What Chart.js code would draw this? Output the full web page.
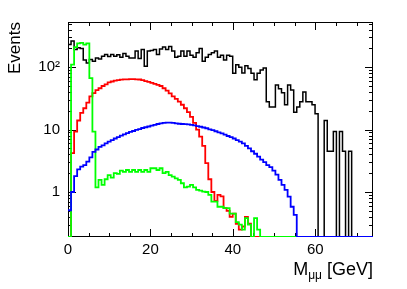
<!DOCTYPE html>
<html>
<head>
<meta charset="utf-8">
<script src="https://cdn.jsdelivr.net/npm/chart.js@4.4.1/dist/chart.umd.min.js"></script>
<style>
  html, body { margin: 0; padding: 0; background: #fff; }
  #chart { display: block; }
</style>
</head>
<body>
<canvas id="chart" width="407" height="289"></canvas>
<script>
// binning of the histograms (GeV)
const binWidth = 0.74;
const xMax = 74;
const xTickValues = [0, 20, 40, 60];
const xTickLabels = ['0', '20', '40', '60'];
const yTickValues = [1, 10, 100];
const yTickLabels = ['1', '10', '10²'];
const yMin = 0.19;
const yMax = 530;

// events per bin
const blackCounts = [
  230, 262, 192, 205, 200, 130, 117, 133, 125, 141,
  135, 150, 160, 148, 160, 150, 158, 145, 165, 150,
  141, 140, 181, 138, 192, 104, 181, 185, 192, 160,
  195, 210, 192, 215, 181, 145, 150, 181, 150, 181,
  155, 145, 170, 200, 125, 145, 160, 170, 181, 145,
  155, 131, 155, 150, 80, 109, 100, 81, 105, 95,
  80, 63, 80, 90, 97, 28, 23, 23, 52, 45,
  39, 25, 52, 43, 19, 23, 28, 40, 28, 28,
  25, 18, 0, 0, 14, 4.5, 4.5, 9.3, 0, 9.3,
  4.5, 0, 4.5, 0, 0, 0, 0, 0, 0, 0
];
const redCounts = [
  0, 4.2, 9.3, 14, 18.5, 22, 27, 34, 38.5, 43,
  46, 50, 53, 57, 59, 61, 62, 63, 64, 64,
  64.5, 64.5, 64, 63.5, 62, 60, 58, 56, 54, 52,
  50, 46, 42, 38, 34, 31, 28, 25, 22, 19,
  16, 12.8, 10, 7.7, 5.5, 2.9, 1.6, 1.0, 0.72, 0.9,
  0.85, 0.55, 0.5, 0.4, 0.45, 0.31, 0.25, 0.28, 0.4, 0.31,
  0, 0, 0, 0, 0, 0, 0, 0, 0, 0,
  0, 0, 0, 0, 0, 0, 0, 0, 0, 0,
  0, 0, 0, 0, 0, 0, 0, 0, 0, 0,
  0, 0, 0, 0, 0, 0, 0, 0, 0, 0
];
const blueCounts = [
  0.51, 1.0, 1.8, 2.3, 2.55, 2.7, 3.06, 3.6, 4.4, 4.8,
  5.3, 5.6, 6.0, 6.4, 6.8, 7.2, 7.6, 8.0, 8.4, 8.8,
  9.2, 9.5, 9.9, 10.2, 10.6, 10.9, 11.2, 11.6, 11.9, 12.3,
  12.6, 12.8, 12.9, 12.9, 12.8, 12.6, 12.4, 12.3, 12.2, 12.1,
  11.9, 11.7, 11.4, 11.1, 10.8, 10.5, 10.1, 9.8, 9.4, 9.0,
  8.7, 8.3, 7.9, 7.6, 7.2, 6.8, 6.4, 6.0, 5.5, 5.0,
  4.5, 4.1, 3.7, 3.3, 3.0, 2.7, 2.5, 2.2, 1.9, 1.56,
  1.3, 1.08, 0.84, 0.58, 0.43, 0, 0, 0, 0, 0,
  0, 0, 0, 0, 0, 0, 0, 0, 0, 0,
  0, 0, 0, 0, 0, 0, 0, 0, 0, 0
];
const greenCounts = [
  0, 110, 210, 240, 245, 230, 240, 67, 9.3, 1.19,
  1.56, 1.3, 1.6, 1.87, 1.7, 2.0, 1.95, 2.2, 2.1, 2.25,
  2.1, 2.25, 2.1, 2.25, 2.1, 2.25, 2.1, 2.4, 2.4, 2.25,
  2.4, 2.0, 2.1, 1.87, 1.76, 1.65, 1.56, 1.38, 1.19, 1.22,
  1.3, 1.19, 1.08, 1.05, 1.01, 1.0, 0.9, 0.7, 0.7, 0.58,
  0.58, 0.55, 0.55, 0.45, 0.45, 0.33, 0.3, 0.25, 0.38, 0.3,
  0, 0.38, 0.25, 0, 0, 0, 0, 0, 0, 0,
  0, 0, 0, 0, 0, 0, 0, 0, 0, 0,
  0, 0, 0, 0, 0, 0, 0, 0, 0, 0,
  0, 0, 0, 0, 0, 0, 0, 0, 0, 0
];

const font = '"Liberation Sans", Arial, Helvetica, sans-serif';

// turn bin contents into step points (empty bins sit on the bottom of the frame)
function histPoints(counts) {
  const pts = counts.map((v, i) => ({ x: i * binWidth, y: v > 0 ? v : yMin }));
  pts.push({ x: counts.length * binWidth, y: pts[pts.length - 1].y });
  return pts;
}

function histDataset(counts, color, width) {
  return {
    data: histPoints(counts),
    borderColor: color,
    borderWidth: width,
    stepped: 'before',
    pointRadius: 0,
    fill: false
  };
}

// ROOT-like frame with ticks on all four sides, plus the x title with subscript
const rootFrame = {
  id: 'rootFrame',
  beforeDatasetsDraw(chart) {
    const { ctx, chartArea: a, scales: { x, y } } = chart;
    ctx.save();
    ctx.strokeStyle = '#000';
    ctx.lineWidth = 1;
    ctx.strokeRect(a.left + 0.5, a.top + 0.5, a.right - a.left - 1, a.bottom - a.top - 1);
    ctx.beginPath();
    for (let v = 0; v <= xMax; v += 5) {
      const px = Math.round(x.getPixelForValue(v)) + 0.5;
      const len = v % 20 === 0 ? 8 : 4;
      ctx.moveTo(px, a.bottom); ctx.lineTo(px, a.bottom - len);
      ctx.moveTo(px, a.top); ctx.lineTo(px, a.top + len);
    }
    for (let d = -1; d <= 2; d++) {
      for (let k = 1; k <= 9; k++) {
        const v = k * Math.pow(10, d);
        if (v < yMin || v > yMax) continue;
        const py = Math.round(y.getPixelForValue(v)) + 0.5;
        const len = k === 1 ? 8 : 4;
        ctx.moveTo(a.left, py); ctx.lineTo(a.left + len, py);
        ctx.moveTo(a.right, py); ctx.lineTo(a.right - len, py);
      }
    }
    ctx.stroke();
    ctx.restore();
  },
  afterDraw(chart) {
    const { ctx, chartArea: a } = chart;
    const big = '18px ' + font;
    const small = '12px ' + font;
    ctx.save();
    ctx.fillStyle = '#000';
    ctx.textBaseline = 'alphabetic';
    ctx.font = big;
    const wM = ctx.measureText('M').width;
    const wRest = ctx.measureText(' [GeV]').width;
    ctx.font = small;
    const wSub = ctx.measureText('μμ').width;
    const base = a.bottom + 38;
    let xPos = a.right - (wM + wSub + wRest);
    ctx.font = big;
    ctx.fillText('M', xPos, base);
    xPos += wM;
    ctx.font = small;
    ctx.fillText('μμ', xPos, base + 4);
    xPos += wSub;
    ctx.font = big;
    ctx.fillText(' [GeV]', xPos, base);
    ctx.restore();
  }
};

const ctx = document.getElementById('chart').getContext('2d');
new Chart(ctx, {
  type: 'line',
  data: {
    datasets: [
      histDataset(blueCounts, '#0000ff', 1.8),
      histDataset(greenCounts, '#00ff00', 1.8),
      histDataset(redCounts, '#ff0000', 1.8),
      histDataset(blackCounts, '#000000', 1.5)
    ]
  },
  options: {
    responsive: false,
    devicePixelRatio: 1,
    animation: false,
    layout: { padding: { left: 0, right: 34, top: 22, bottom: 0 } },
    plugins: { legend: { display: false }, tooltip: { enabled: false } },
    scales: {
      x: {
        type: 'linear',
        min: 0,
        max: xMax,
        grid: { display: false, drawTicks: false },
        border: { display: false },
        afterBuildTicks: s => { s.ticks = xTickValues.map(v => ({ value: v })); },
        afterFit: s => { s.height = 52; },
        ticks: {
          padding: 4,
          color: '#000',
          font: { family: font, size: 15 },
          maxRotation: 0,
          autoSkip: false,
          callback: v => xTickLabels[xTickValues.indexOf(v)]
        }
      },
      y: {
        type: 'logarithmic',
        min: yMin,
        max: yMax,
        grid: { display: false, drawTicks: false },
        border: { display: false },
        afterBuildTicks: s => { s.ticks = yTickValues.map(v => ({ value: v })); },
        afterFit: s => { s.width = 68; },
        ticks: {
          padding: 8,
          color: '#000',
          font: { family: font, size: 15 },
          autoSkip: false,
          callback: v => yTickLabels[yTickValues.indexOf(v)]
        },
        title: {
          display: true,
          text: 'Events',
          align: 'end',
          color: '#000',
          font: { family: font, size: 17 },
          padding: { top: 5, bottom: 0 }
        }
      }
    }
  },
  plugins: [rootFrame]
});
</script>
</body>
</html>
